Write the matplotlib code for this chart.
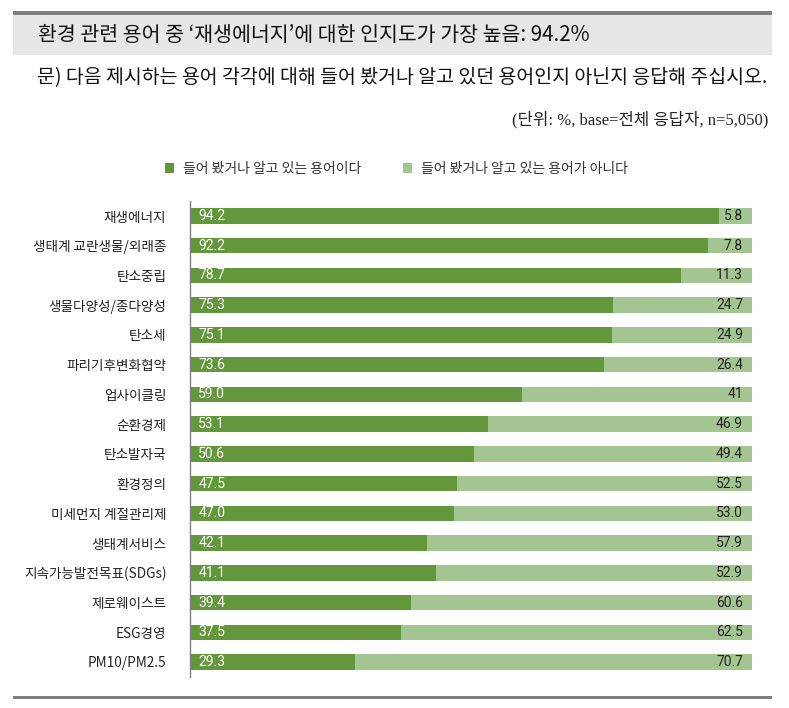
import matplotlib
matplotlib.use("Agg")
import matplotlib.pyplot as plt
from matplotlib.patches import Rectangle, Patch

plt.rcParams['font.family'] = ['Noto Sans CJK KR', 'DejaVu Sans']

# data
categories = ["재생에너지", "생태계 교란생물/외래종", "탄소중립", "생물다양성/종다양성", "탄소세",
              "파리기후변화협약", "업사이클링", "순환경제", "탄소발자국", "환경정의",
              "미세먼지 계절관리제", "생태계서비스", "지속가능발전목표(SDGs)", "제로웨이스트",
              "ESG경영", "PM10/PM2.5"]
known = [94.2, 92.2, 78.7, 75.3, 75.1, 73.6, 59.0, 53.1, 50.6, 47.5, 47.0, 42.1, 41.1, 39.4, 37.5, 29.3]
unknown = [5.8, 7.8, 11.3, 24.7, 24.9, 26.4, 41, 46.9, 49.4, 52.5, 53.0, 57.9, 52.9, 60.6, 62.5, 70.7]
unknown_labels = ["5.8", "7.8", "11.3", "24.7", "24.9", "26.4", "41", "46.9", "49.4", "52.5",
                  "53.0", "57.9", "52.9", "60.6", "62.5", "70.7"]
legend_labels = ["들어 봤거나 알고 있는 용어이다", "들어 봤거나 알고 있는 용어가 아니다"]

dark = "#62983b"
light = "#a3c592"

W, H = 789, 708
fig = plt.figure(figsize=(W / 100, H / 100), dpi=100)

def fx(px):
    return px / W

def fy(py):
    return 1 - py / H

# header band
fig.patches.append(Rectangle((fx(13), fy(55)), fx(759), (55 - 14) / H, transform=fig.transFigure,
                             facecolor="#e7e7e7", edgecolor="none"))
fig.patches.append(Rectangle((fx(13), fy(14.5)), fx(759), 3.5 / H, transform=fig.transFigure,
                             facecolor="#7f7f7f", edgecolor="none"))
fig.text(fx(38), fy(35), "환경 관련 용어 중 ‘재생에너지’에 대한 인지도가 가장 높음: 94.2%",
         fontsize=14.8, va="center", ha="left", color="#111111")
fig.text(fx(37), fy(78), "문) 다음 제시하는 용어 각각에 대해 들어 봤거나 알고 있던 용어인지 아닌지 응답해 주십시오.",
         fontsize=14, va="center", ha="left", color="#111111")
fig.text(fx(768), fy(120), "(단위: %, base=전체 응답자, n=5,050)",
         fontsize=12, va="center", ha="right", color="#222222",
         family=["Liberation Serif", "Noto Sans CJK KR"])

# bottom rule
fig.patches.append(Rectangle((fx(13), fy(699)), fx(759), 3.5 / H, transform=fig.transFigure,
                             facecolor="#7f7f7f", edgecolor="none"))

ax = fig.add_axes([fx(190), fy(677), fx(752 - 190), (677 - 201) / H])

ypos = list(range(len(categories)))
totals = [k + u for k, u in zip(known, unknown)]
kshare = [k / t * 100 for k, t in zip(known, totals)]
ushare = [u / t * 100 for u, t in zip(unknown, totals)]

ax.barh(ypos, kshare, height=0.52, color=dark, edgecolor="none")
ax.barh(ypos, ushare, left=kshare, height=0.52, color=light, edgecolor="none")

for y, k in zip(ypos, known):
    ax.text(1.5, y, f"{k:.1f}", color="white", fontsize=10, va="center", ha="left",
            family=["Roboto", "DejaVu Sans"])
for y, lab in zip(ypos, unknown_labels):
    ax.text(98.4, y, lab, color="#222222", fontsize=10, va="center", ha="right",
            family=["Roboto", "DejaVu Sans"])

ax.set_xlim(0, 100)
ax.set_ylim(len(categories) - 0.495, -0.505)
ax.set_yticks(ypos)
ax.set_yticklabels(categories, fontsize=9.8, color="#222222")
ax.tick_params(axis="y", length=0, pad=17)
ax.set_xticks([])
for s in ["top", "right", "bottom"]:
    ax.spines[s].set_visible(False)
ax.spines["left"].set_color("#808080")
ax.spines["left"].set_linewidth(1)

handles = [Patch(facecolor=dark), Patch(facecolor=light)]
fig.legend(handles, legend_labels, loc="center", bbox_to_anchor=(fx(396), fy(169)), ncol=2,
           frameon=False, fontsize=10, handlelength=0.7, handleheight=0.7, handletextpad=0.6,
           columnspacing=3.0, labelcolor="#333333")

fig.savefig("out.png", dpi=100)
